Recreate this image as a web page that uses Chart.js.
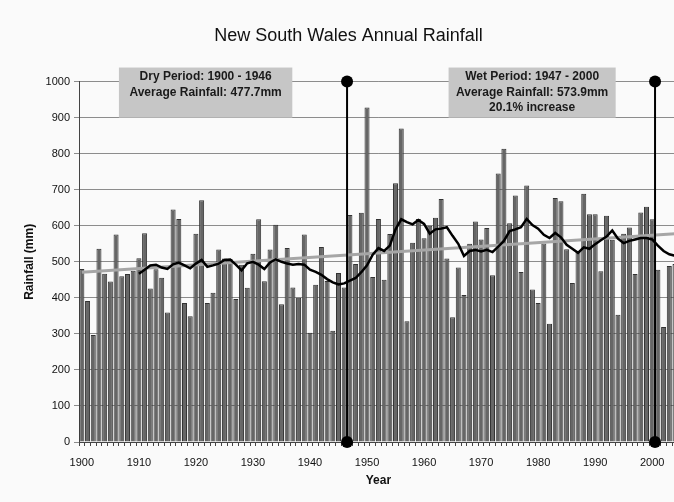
<!DOCTYPE html>
<html>
<head>
<meta charset="utf-8">
<title>New South Wales Annual Rainfall</title>
<script src="https://cdn.jsdelivr.net/npm/chart.js@4.4.1/dist/chart.umd.min.js"></script>
<style>
  html, body { margin: 0; padding: 0; background: #fafafa; overflow: hidden; }
  #wrap { width: 685px; height: 502px; }
</style>
</head>
<body>
<div id="wrap"><canvas id="rainChart"></canvas></div>
<script>
const firstYear = 1900;
const lastYear = 2004;

// annual rainfall (mm), 1900 - 2004
const rainfall = [
  480, 391, 297, 536, 467, 445, 576, 460, 466, 475,
  510, 579, 426, 479, 456, 359, 645, 619, 386, 349,
  578, 671, 386, 414, 534, 509, 508, 397, 492, 428,
  522, 618, 446, 534, 603, 382, 538, 429, 400, 576,
  303, 436, 541, 447, 309, 469, 429, 630, 494, 636,
  928, 458, 619, 450, 577, 718, 870, 335, 553, 619,
  565, 600, 622, 674, 509, 346, 484, 408, 550, 612,
  562, 594, 463, 745, 814, 607, 684, 472, 712, 423,
  386, 551, 328, 677, 668, 535, 441, 530, 689, 632,
  632, 474, 628, 561, 353, 578, 595, 466, 637, 653,
  618, 478, 319, 488, 494
];

// moving average line (starts 1910)
const movingAvg = [
  null, null, null, null, null, null, null, null, null, null,
  467, 478, 490, 492, 484, 480, 493, 498, 490, 482,
  495, 505, 486, 490, 495, 505, 506, 492, 476, 496,
  500, 492, 480, 498, 507, 500, 495, 492, 494, 492,
  478, 472, 464, 452, 443, 437, 440, 448, 455, 471,
  490, 520, 538, 530, 545, 590, 618, 610, 604, 616,
  605, 578, 590, 592, 596, 572, 550, 516, 530, 533,
  529, 533, 527, 542, 558, 585, 590, 596, 619, 602,
  592, 575, 566, 580, 568, 547, 536, 525, 540, 536,
  549, 560, 570, 587, 564, 552, 558, 562, 566, 566,
  562, 545, 530, 521, 517
];

// linear trend, first and last year
const trendEnds = [471, 578];

// vertical divider drawn after these years
const dividerYears = [1946, 2000];

const dryNote = ['Dry Period: 1900 - 1946', 'Average Rainfall: 477.7mm'];
const wetNote = ['Wet Period: 1947 - 2000', 'Average Rainfall: 573.9mm', '20.1% increase'];

const years = [];
for (let y = firstYear; y <= lastYear; y++) years.push(y);

const trend = years.map(function (y, i) {
  if (i === 0) return trendEnds[0];
  if (i === years.length - 1) return trendEnds[1];
  return null;
});

const fontFamily = '"Liberation Sans", Arial, sans-serif';

const overlays = {
  id: 'overlays',
  afterDatasetsDraw(chart) {
    const ctx = chart.ctx;
    const xs = chart.scales.x;
    const ys = chart.scales.y;
    const w = xs.getPixelForValue(1) - xs.getPixelForValue(0);
    const edge = yr => xs.getPixelForValue(0) - w / 2 + (yr - firstYear) * w;
    const top = ys.getPixelForValue(1000);
    const bottom = ys.getPixelForValue(0);

    ctx.save();
    ctx.strokeStyle = '#000';
    ctx.fillStyle = '#000';
    ctx.lineWidth = 2;
    dividerYears.forEach(function (d) {
      const px = edge(d + 1);
      ctx.beginPath();
      ctx.moveTo(px, top);
      ctx.lineTo(px, bottom);
      ctx.stroke();
      [top, bottom].forEach(function (py) {
        ctx.beginPath();
        ctx.arc(px, py, 6, 0, Math.PI * 2);
        ctx.fill();
      });
    });
    ctx.restore();
  },
  afterDraw(chart) {
    const ctx = chart.ctx;
    const xs = chart.scales.x;
    const ys = chart.scales.y;
    const w = xs.getPixelForValue(1) - xs.getPixelForValue(0);
    const edge = yr => xs.getPixelForValue(0) - w / 2 + (yr - firstYear) * w;

    const boxes = [
      { lines: dryNote, from: 1907, to: 1937.4 },
      { lines: wetNote, from: 1964.8, to: 1994.1 }
    ];
    ctx.save();
    boxes.forEach(function (b) {
      const x1 = edge(b.from), x2 = edge(b.to);
      const y1 = ys.getPixelForValue(1039), y2 = ys.getPixelForValue(900);
      ctx.fillStyle = '#c6c6c6';
      ctx.fillRect(x1, y1, x2 - x1, y2 - y1);
      ctx.fillStyle = '#1a1a1a';
      ctx.font = 'bold 12px ' + fontFamily;
      ctx.textAlign = 'center';
      ctx.textBaseline = 'middle';
      b.lines.forEach(function (t, i) {
        ctx.fillText(t, (x1 + x2) / 2, y1 + 9.5 + i * 15.5);
      });
    });
    ctx.restore();
  }
};

const ctx = document.getElementById('rainChart');
const chart = new Chart(ctx, {
  type: 'bar',
  data: {
    labels: years,
    datasets: [
      {
        type: 'line',
        label: 'Moving average',
        data: movingAvg,
        borderColor: '#000',
        borderWidth: 2.5,
        pointRadius: 0,
        fill: false,
        tension: 0,
        order: 1
      },
      {
        type: 'line',
        label: 'Trend',
        data: trend,
        borderColor: '#a6a6a6',
        borderWidth: 3,
        pointRadius: 0,
        spanGaps: true,
        fill: false,
        order: 2
      },
      {
        label: 'Rainfall',
        data: rainfall,
        backgroundColor: '#666666',
        borderColor: '#333',
        borderWidth: 1,
        barPercentage: 0.88,
        categoryPercentage: 1,
        order: 3
      }
    ]
  },
  options: {
    responsive: true,
    maintainAspectRatio: false,
    animation: false,
    layout: { padding: { left: 12, right: 0, top: 0, bottom: 0 } },
    plugins: {
      legend: { display: false },
      tooltip: { enabled: false },
      title: {
        display: true,
        text: 'New South Wales Annual Rainfall',
        color: '#111',
        font: { family: fontFamily, size: 18, weight: 'normal' },
        padding: { top: 25, bottom: 35 }
      }
    },
    scales: {
      x: {
        grid: {
          display: true,
          drawOnChartArea: false,
          drawTicks: true,
          tickLength: 4,
          color: '#444'
        },
        border: { display: true, color: '#444' },
        ticks: {
          autoSkip: false,
          maxRotation: 0,
          minRotation: 0,
          padding: 10,
          color: '#111',
          font: { family: fontFamily, size: 11 },
          callback: function (val, i) {
            return years[i] % 10 === 0 ? String(years[i]) : '';
          }
        },
        title: {
          display: true,
          text: 'Year',
          color: '#111',
          font: { family: fontFamily, size: 12, weight: 'bold' },
          padding: { top: 0, bottom: 14 }
        },
        afterFit: function (scale) { scale.height = 60; }
      },
      y: {
        min: 0,
        max: 1000,
        grid: { color: '#8c8c8c', tickLength: 5 },
        border: { display: true, color: '#444' },
        ticks: {
          stepSize: 100,
          padding: 4,
          color: '#111',
          font: { family: fontFamily, size: 11 },
          callback: function (val) { return String(val); }
        },
        title: {
          display: true,
          text: 'Rainfall (mm)',
          color: '#111',
          font: { family: fontFamily, size: 12, weight: 'bold' },
          padding: { top: 10, bottom: 0 }
        },
        afterFit: function (scale) { scale.width = 67; }
      }
    }
  },
  plugins: [overlays]
});
</script>
</body>
</html>
